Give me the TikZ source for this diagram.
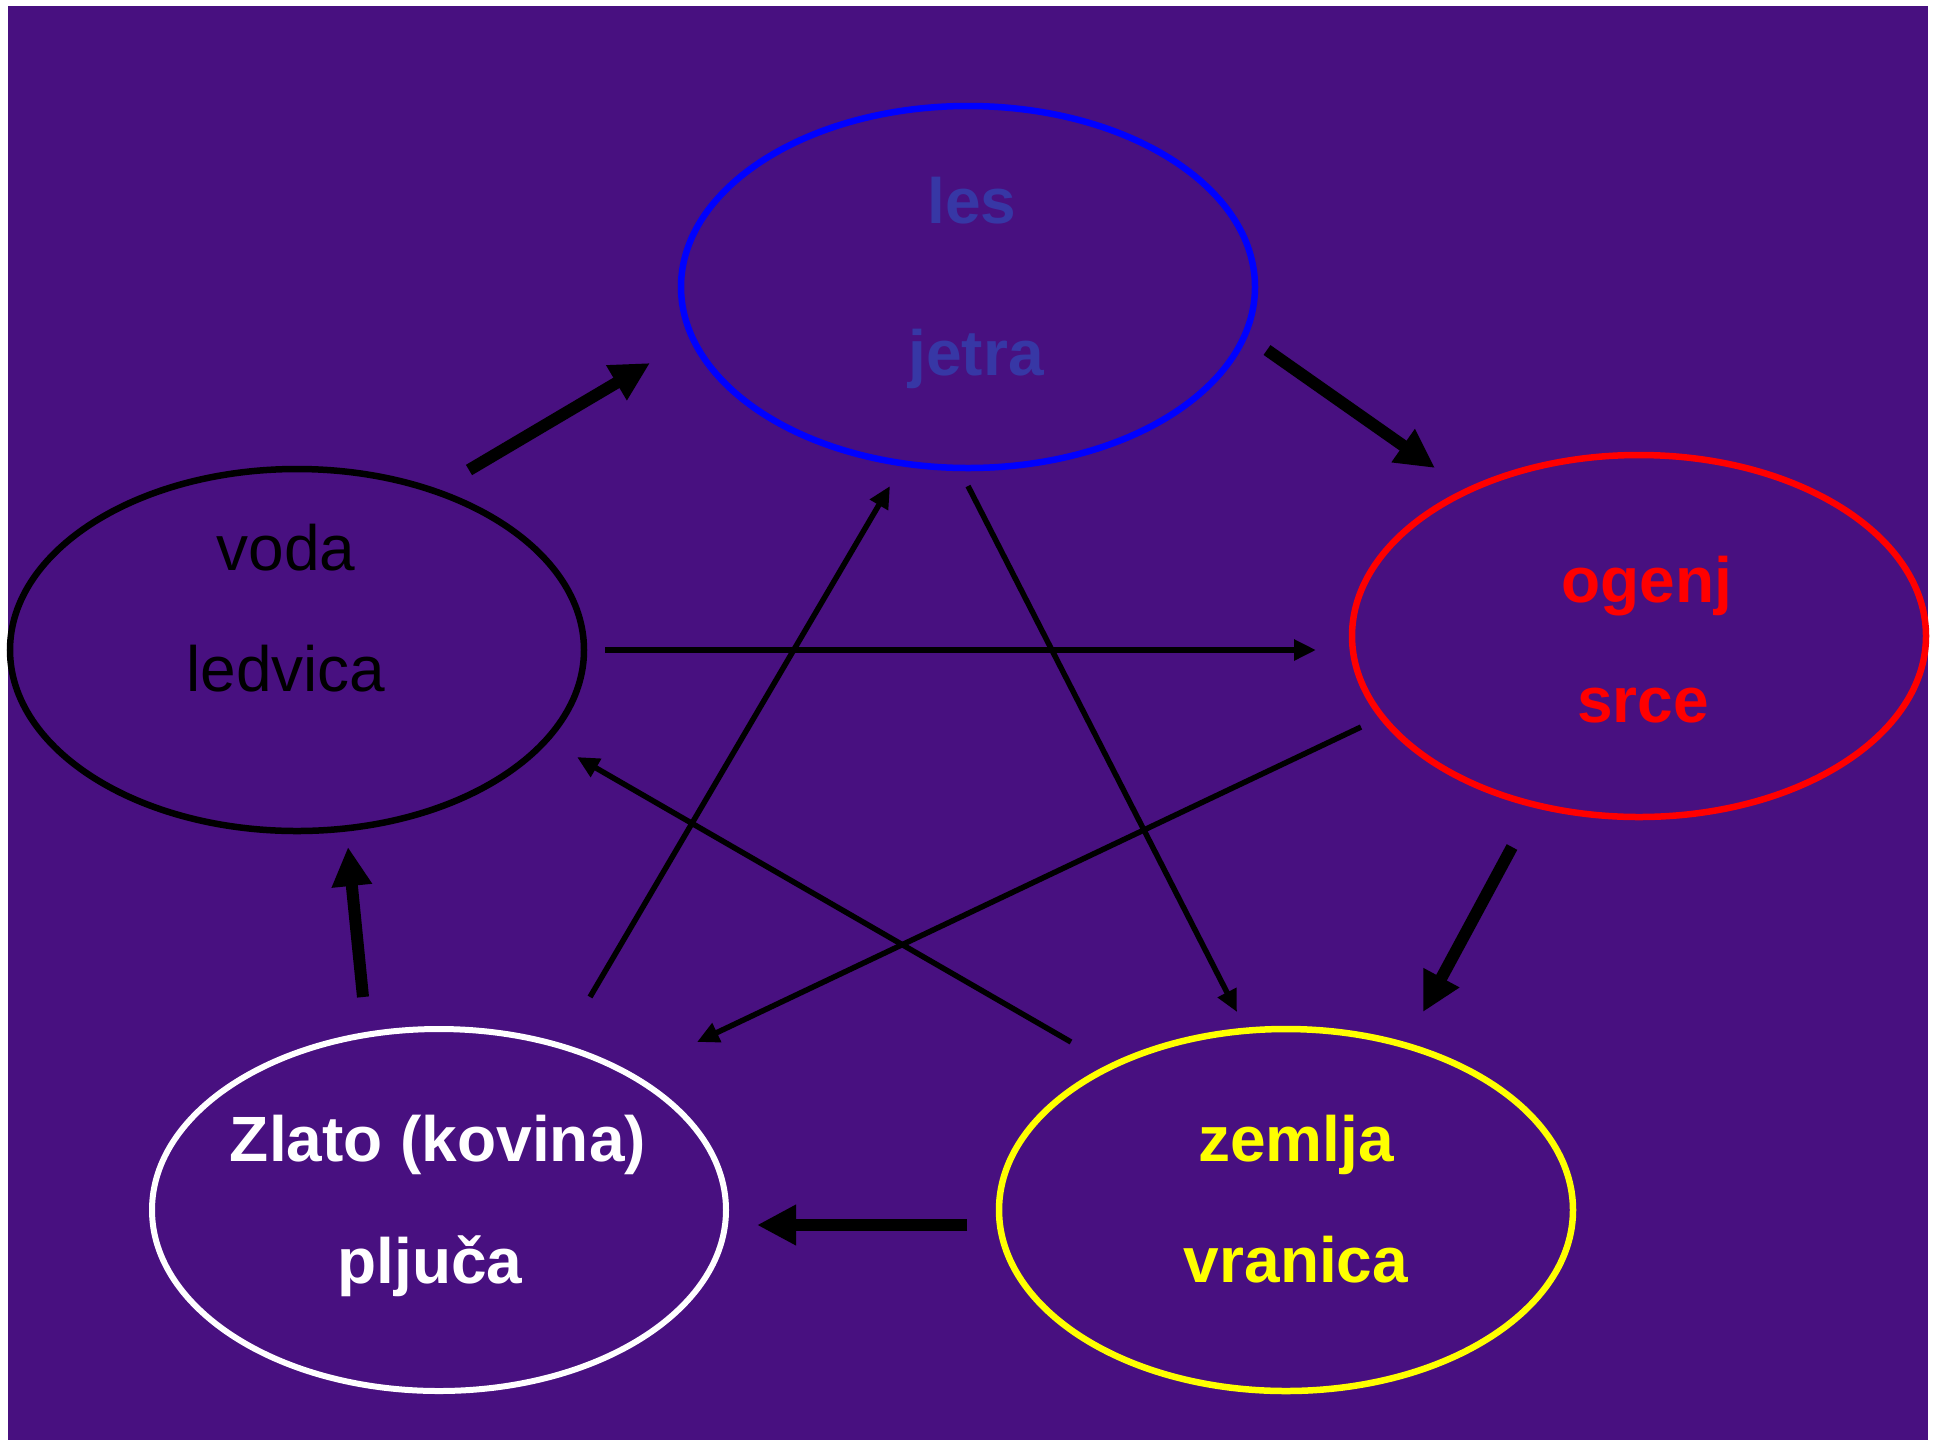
\documentclass[tikz,border=0pt]{standalone}
\usepackage{fontspec}
\setmainfont{Liberation Sans}
\usetikzlibrary{arrows.meta,shapes.geometric,calc}
\tikzset{>=Latex}
\definecolor{bgpurple}{RGB}{72,16,128}
\definecolor{lestext}{RGB}{55,55,165}
\definecolor{blue}{RGB}{0,0,255}
\definecolor{red}{RGB}{255,0,0}
\definecolor{yellow}{RGB}{255,255,0}

\begin{document}
\begin{tikzpicture}[x=1pt,y=-1pt,
    elem/.style={ellipse,draw,line width=6.5pt,minimum width=574pt,minimum height=362pt,inner sep=0pt,outer sep=0pt},
    lbl/.style={anchor=base,inner sep=0pt,font=\fontsize{64}{77}\selectfont\bfseries},
    bigarrow/.style={-{Triangle[length=39pt,width=38pt]},line width=12pt},
    thinarrow/.style={-{Triangle[length=22pt,width=20pt]},line width=5.5pt}]
            \useasboundingbox (0,0) rectangle (1940,1441);
            \fill [bgpurple] (8,6) rectangle (1928,1440);
            \node [elem,draw=blue] (L) at (968,287) {};
            \node [elem,draw=red] (O) at (1639,636) {};
            \node [elem,draw=yellow] (Z) at (1286,1210) {};
            \node [elem,draw=white,line width=6pt] (K) at (439,1210) {};
            \node [elem,draw=black] (V) at (297,650) {};
            \node [lbl,lestext] (les) at (972,223) {les};
            \node [lbl,lestext] (jetra) at (976,375) {jetra};
            \node [lbl,red] (ogenj) at (1647,602) {ogenj};
            \node [lbl,red] (srce) at (1643,722) {srce};
            \node [lbl,yellow] (zemlja) at (1296,1161) {zemlja};
            \node [lbl,yellow] (vranica) at (1296,1282) {vranica};
            \node [lbl,white] (zlato) at (438,1161) {Zlato (kovina)};
            \node [lbl,white] (pljuca) at (430,1283) {pljuča};
            \node [lbl,black,font=\fontsize{64}{77}\selectfont] (voda) at (286,570) {voda};
            \node [lbl,black,font=\fontsize{64}{77}\selectfont] (ledvica) at (286,691) {ledvica};
            \draw [bigarrow] ($(V)+(172,-180)$) -- ($(L)+(-318,76)$);
            \draw [bigarrow] ($(L)+(299,63)$) -- ($(O)+(-204,-168)$);
            \draw [bigarrow] ($(O)+(-127,211)$) -- ($(Z)+(137,-198)$);
            \draw [bigarrow] ($(Z)+(-319,15)$) -- ($(K)+(318,15)$);
            \draw [bigarrow] ($(K)+(-76,-213)$) -- ($(V)+(51,197)$);
            \draw [thinarrow] ($(V)+(308,0)$) -- ($(O)+(-323,14)$);
            \draw [thinarrow] ($(L)+(0,199)$) -- ($(Z)+(-49,-198)$);
            \draw [thinarrow] ($(O)+(-278,91)$) -- ($(K)+(258,-168)$);
            \draw [thinarrow] ($(Z)+(-215,-168)$) -- ($(V)+(280,107)$);
            \draw [thinarrow] ($(K)+(151,-213)$) -- ($(L)+(-78,199)$);
         \end{tikzpicture}
\end{document}
